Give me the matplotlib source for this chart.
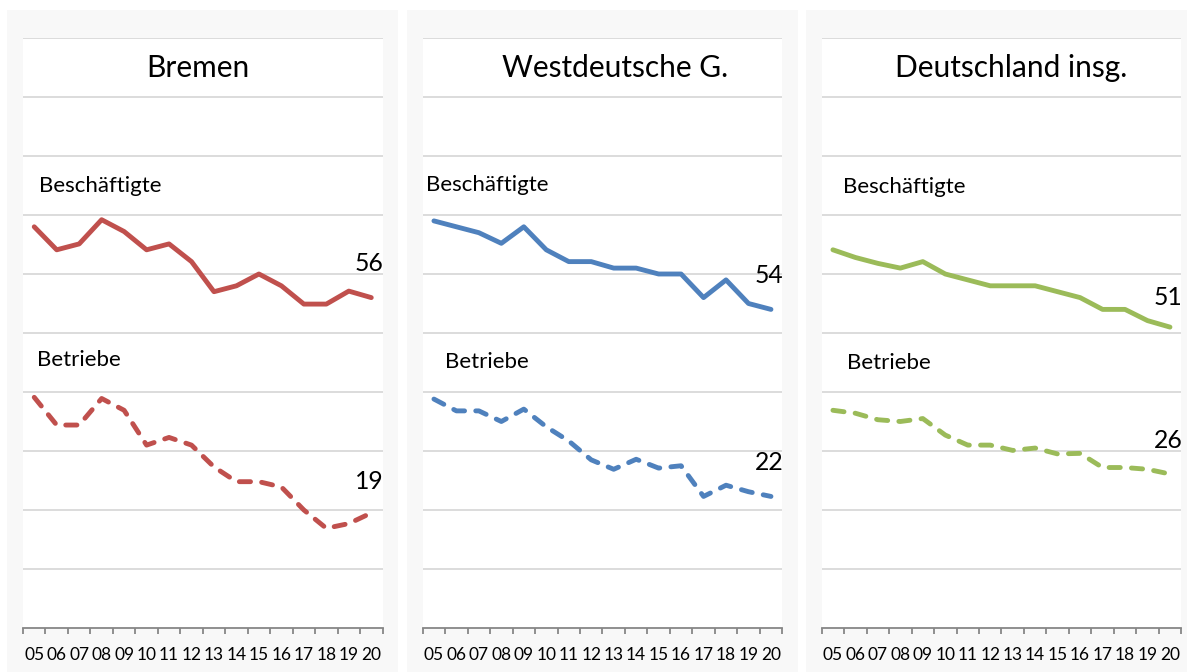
import matplotlib
matplotlib.use('Agg')
import matplotlib.pyplot as plt
from matplotlib.patches import Rectangle

plt.rcParams['font.family'] = ['Lato', 'DejaVu Sans']

# years 2005 - 2020
years = ['05', '06', '07', '08', '09', '10', '11', '12', '13', '14', '15', '16', '17', '18', '19', '20']

titles = ['Bremen', 'Westdeutsche G.', 'Deutschland insg.']
colors = ['#C0504D', '#4F81BD', '#9BBB59']

# Beschäftigte (solid line)
besch_bremen = [68.0, 64.1, 65.1, 69.2, 67.2, 64.1, 65.1, 62.1, 57.0, 58.0, 60.0, 58.0, 54.9, 54.9, 57.1, 56.0]
besch_west = [69.0, 68.0, 67.0, 65.2, 68.0, 64.1, 62.1, 62.1, 61.0, 61.0, 60.0, 60.0, 56.0, 59.0, 55.0, 54.0]
besch_de = [64.1, 62.8, 61.8, 61.0, 62.1, 60.0, 59.0, 58.0, 58.0, 58.0, 57.0, 56.0, 54.0, 54.0, 52.1, 51.0]

# Betriebe (dashed line)
betr_bremen = [39.1, 34.4, 34.4, 38.9, 36.9, 31.0, 32.3, 31.0, 27.3, 24.8, 24.8, 23.9, 20.0, 16.9, 17.7, 19.5]
betr_west = [38.8, 36.8, 36.8, 35.0, 37.1, 34.1, 31.7, 28.5, 26.9, 28.6, 27.1, 27.5, 22.3, 24.2, 23.1, 22.3]
betr_de = [36.9, 36.4, 35.3, 35.0, 35.5, 32.7, 31.0, 31.0, 30.1, 30.5, 29.5, 29.6, 27.2, 27.2, 26.9, 26.1]

end_labels_besch = ['56', '54', '51']
end_labels_betr = ['19', '22', '26']

besch = [besch_bremen, besch_west, besch_de]
betr = [betr_bremen, betr_west, betr_de]

W, H = 1187, 672
fig = plt.figure(figsize=(W / 100, H / 100), dpi=100)
fig.patch.set_facecolor('white')

# light grey chart areas behind each panel
panel_x = [(7, 398), (407, 798), (806, 1187)]
for x0, x1 in panel_x:
    fig.patches.append(Rectangle((x0 / W, 0), (x1 - x0) / W, (H - 10) / H,
                                 transform=fig.transFigure, facecolor='#f8f8f8',
                                 edgecolor='none', zorder=0))

ax_left = [23, 422.7, 821.7]
ax_w = 359.5
ax_bottom, ax_top = 628, 38

# text positions (data coords)
besch_lab_x = [0.21, -0.35, 0.45]
besch_lab_y = [74.9, 75.1, 74.7]
betr_lab_x = [0.12, 0.49, 0.63]
betr_lab_y = [45.4, 45.1, 44.9]
title_x = [7.28, 8.07, 7.94]
end_y_besch = [61.7, 59.7, 56.1]
end_y_betr = [24.9, 28.1, 31.7]

x = list(range(len(years)))
for i in range(3):
    ax = fig.add_axes([ax_left[i] / W, (H - ax_bottom) / H, ax_w / W, (ax_bottom - ax_top) / H])
    ax.set_facecolor('white')
    ax.set_zorder(1)
    ax.plot(x, besch[i], color=colors[i], lw=3.5, solid_capstyle='round',
            solid_joinstyle='round', zorder=3)
    ax.plot(x, betr[i], color=colors[i], lw=3.5, dashes=(2.3, 2.3),
            dash_capstyle='round', dash_joinstyle='round', zorder=3)
    ax.set_xlim(-0.5, 15.5)
    ax.set_ylim(0, 100)
    ax.set_yticks(range(10, 101, 10))
    ax.yaxis.grid(True, color='#d9d9d9', lw=1.3)
    ax.set_axisbelow(True)
    ax.tick_params(axis='y', left=False, labelleft=False)
    for s in ['top', 'left', 'right']:
        ax.spines[s].set_visible(False)
    ax.spines['bottom'].set_color('#868686')
    ax.spines['bottom'].set_linewidth(1.3)
    ax.set_xticks(x)
    ax.set_xticklabels(years, fontsize=12.5)
    ax.set_xticks([v - 0.5 for v in range(17)], minor=True)
    ax.tick_params(axis='x', which='major', length=0, pad=14)
    ax.tick_params(axis='x', which='minor', length=4, width=1.3, color='#868686')

    ax.text(title_x[i], 94.9, titles[i], fontsize=21.5, ha='center', va='center')
    ax.text(besch_lab_x[i], besch_lab_y[i], 'Beschäftigte', fontsize=16, ha='left', va='center')
    ax.text(betr_lab_x[i], betr_lab_y[i], 'Betriebe', fontsize=16, ha='left', va='center')
    ax.text(15.55, end_y_besch[i], end_labels_besch[i], fontsize=17.8, ha='right', va='center')
    ax.text(15.55, end_y_betr[i], end_labels_betr[i], fontsize=17.8, ha='right', va='center')

fig.savefig('out.png', dpi=100)
